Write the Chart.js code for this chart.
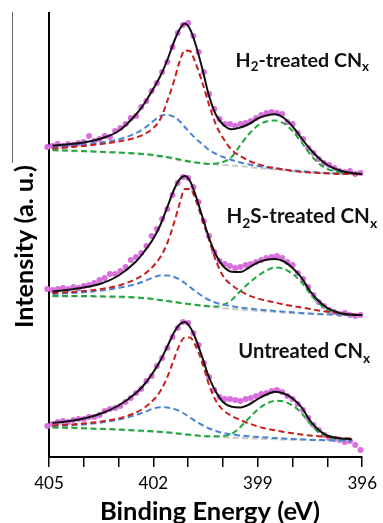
<!DOCTYPE html>
<html>
<head>
<meta charset="utf-8">
<script src="https://cdn.jsdelivr.net/npm/chart.js@4.4.0/dist/chart.umd.min.js"></script>
<style>
  html, body { margin: 0; padding: 0; background: #fff; }
  #wrap { position: relative; width: 383px; height: 523px; }
  #edge { position: absolute; left: 12px; top: 12px; width: 1px; height: 151px; background: #666; }
</style>
</head>
<body>
<div id="wrap">
  <canvas id="xpsChart" width="383" height="523"></canvas>
  <div id="edge"></div>
</div>
<script>
// Binding energies (eV) of the fitted curves and of the measured points
const fitEnergy = [404.9, 404.5, 404, 403.5, 403, 402.5, 402.25, 402, 401.8, 401.6, 401.4, 401.25, 401.1, 400.95, 400.8, 400.6, 400.4, 400.2, 400, 399.75, 399.5, 399.25, 399, 398.75, 398.5, 398.25, 398, 397.75, 397.5, 397.25, 397, 396.6, 396.3, 396];
const dotEnergy = [405.05, 404.9, 404.75, 404.6, 404.45, 404.3, 404.15, 404.0, 403.85, 403.7, 403.55, 403.4, 403.25, 403.1, 402.95, 402.8, 402.65, 402.5, 402.35, 402.2, 402.05, 401.9, 401.75, 401.6, 401.45, 401.3, 401.15, 401.0, 400.85, 400.7, 400.55, 400.4, 400.25, 400.1, 399.95, 399.8, 399.65, 399.5, 399.35, 399.2, 399.05, 398.9, 398.75, 398.6, 398.45, 398.3, 398.15, 398.0, 397.85, 397.7, 397.55, 397.4, 397.25, 397.1, 396.95, 396.8, 396.65, 396.5, 396.35, 396.2, 396.05];

// H2-treated CNx (top, offset intensities)
const h2Dots = [310, 311, 313, 311, 313, 312, 314, 315, 321, 316, 318, 321, 320, 326, 329, 333, 339, 341, 350, 356, 366, 374, 385, 395, 410, 424, 432, 434, 421, 405, 385, 363, 348, 338, 333, 333, 331, 333, 334, 336, 339, 342, 344, 345, 344, 343, 335, 333, 324, 318, 309, 304, 298, 294, 292, 289, 286, 285, 286, 283, 284];
const h2Fit = [311.5, 312.5, 314.5, 318.5, 326, 342.5, 354, 368.5, 381, 397, 416, 427.5, 433.5, 428, 414, 389, 361, 342, 332.5, 327.7, 329.5, 333, 338.5, 341.5, 342.8, 339, 330.5, 319, 308, 299, 292, 286, 284, 283];
const h2Red = [308.5, 309.5, 311, 313, 315.5, 319.5, 323, 329, 338, 356, 377, 395, 406.5, 406, 395, 375, 352, 332, 319, 307, 301, 296, 293, 290.5, 289, 287.5, 286, 285, 284.5, 284, 283.5, 283, 283, 282.5];
const h2Blue = [310, 311, 312.5, 314.5, 317.5, 324, 329, 336, 341, 342.2, 340, 336, 330, 324.5, 319, 313, 307, 303, 300, 297, 294.5, 292.5, 291, 289.5, 288.5, 287.5, 286.5, 286, 285, 284.5, 284, 283.5, 283, 283];
const h2Green = [307, 306.5, 306, 305.2, 304.5, 303.7, 303, 302, 301, 300, 298.7, 297.5, 296.5, 295.5, 294.7, 293.7, 293, 293.5, 295, 300, 312, 323, 331.5, 335.5, 336.5, 333.5, 326, 315, 303, 293.5, 288, 284.5, 283.5, 283];
const h2Base = [306.5, 306, 305.5, 304.7, 304, 303, 302.2, 301.2, 300, 299, 297.7, 296.7, 295.7, 295, 294.2, 293.5, 293, 292.5, 292, 291.5, 290.8, 290, 289, 288.2, 287.5, 286.7, 286, 285.3, 284.7, 284.2, 283.7, 283.3, 283, 282.8];

// H2S-treated CNx (middle)
const h2sDots = [168, 167, 168, 169, 168, 170, 169, 171, 172, 174, 177, 179, 183, 183, 186, 190, 197, 200, 204, 211, 221, 228, 238, 248, 262, 274, 280, 279, 270, 255, 236, 221, 205, 196, 193, 191, 189, 190, 192, 193, 195, 197, 199, 200, 201, 199, 195, 192, 184, 178, 170, 162, 155, 151, 147, 145, 143, 144, 142, 141, 142];
const h2sFit = [165.5, 167, 169.5, 173.5, 181.5, 195.5, 206, 218.5, 232, 250, 268, 277.5, 281, 276, 263, 241, 219, 202, 191, 185.3, 185, 189.5, 194.5, 197.3, 198, 195.5, 189, 179.5, 166, 156, 149, 143.5, 142.3, 142];
const h2sRed = [164, 164.8, 166, 168, 171.5, 178, 183, 191, 200, 214, 235, 253, 268, 268, 259, 238, 217, 196, 181, 172, 166, 161.5, 158.5, 156.3, 154.5, 152.5, 151, 149.5, 148, 146.5, 145.3, 143.7, 142.7, 142];
const h2sBlue = [163, 163.7, 164.7, 166.5, 169, 173, 176, 179.5, 181.5, 181.5, 180, 177.5, 174, 170, 166, 161, 157, 154.2, 152.5, 150.8, 149.5, 148.5, 147.5, 146.7, 146, 145.3, 144.7, 144, 143.5, 143, 142.7, 142.3, 142, 142];
const h2sGreen = [161, 161, 161, 160.7, 160.3, 159.7, 159, 158, 157, 156, 155, 154.3, 153.5, 153, 152.3, 151.5, 150.7, 150.5, 152, 157, 166, 174, 181, 186.5, 189.5, 188, 183, 175, 163.5, 154, 147, 143, 142, 142];
const h2sBase = [160.5, 160.5, 160.3, 160, 159.5, 158.8, 158.2, 157.5, 156.7, 155.8, 154.8, 154, 153.2, 152.5, 151.8, 151, 150.2, 149.5, 148.8, 148, 147.3, 146.7, 146, 145.5, 145, 144.5, 144, 143.5, 143, 142.7, 142.4, 142, 141.8, 141.7];

// Untreated CNx (bottom)
const untDots = [31, 33, 35, 36, 35, 37, 38, 38, 40, 40, 42, 46, 48, 49, 51, 55, 59, 64, 68, 76, 81, 91, 99, 109, 120, 129, 135, 134, 124, 112, 94, 80, 67, 60, 58, 58, 57, 56, 58, 59, 61, 63, 64, 66, 67, 65, 61, 58, 53, 47, 39, 32, 27, 22, 19, 18, 17, 15, 16, 12, 7];
const untFit = [34, 35.5, 38.5, 43.5, 51.5, 64, 73, 85, 96.5, 110.5, 125, 132.5, 135, 130, 119.5, 100, 79.5, 65, 55, 50.2, 49.5, 52.5, 58, 62.5, 65.3, 63.5, 58.5, 50, 36.5, 27, 21.5, 18.5, 17.7, null];
const untRed = [31.5, 32.2, 33.5, 35.5, 38.5, 44.5, 49.5, 57, 66, 80, 98.5, 112, 119.5, 119.5, 112, 95, 72, 56, 47, 41, 37, 33.5, 30.5, 28.3, 26.7, 25, 23.7, 22.5, 21.5, 20.7, 20, 19, 18.5, null];
const untBlue = [31, 31.5, 32.5, 34.5, 37.5, 42, 45, 48.5, 49.7, 49.5, 48, 46, 43, 39.5, 36, 32, 28.5, 26, 24, 22.5, 21.5, 20.7, 20, 19.5, 19, 18.5, 18, 17.7, 17.3, 17, 16.7, 16.4, 16.2, null];
const untGreen = [29.7, 29.3, 28.8, 28.2, 27.5, 26.7, 26.2, 25.7, 25.2, 24.7, 24, 23.4, 22.8, 22.2, 21.7, 21, 20.7, 20.7, 21, 23, 30, 39, 47.5, 53.5, 56.2, 55.5, 51.5, 44, 33.5, 25, 20.2, 17.5, 16.5, null];
const untBase = [29.2, 28.8, 28.3, 27.7, 27, 26.2, 25.7, 25.2, 24.7, 24.2, 23.6, 23, 22.5, 22, 21.5, 21, 20.5, 20.1, 19.8, 19.4, 19, 18.7, 18.4, 18.1, 17.8, 17.5, 17.3, 17.1, 16.9, 16.7, 16.5, 16.3, 16.2, null];

// Axis tick labels and the sample names (text parts, subscript flag)
const tickLabels = [405, 402, 399, 396];
const sampleLabels = [
  [["H", 0], ["2", 1], ["-treated CN", 0], ["x", 1]],
  [["H", 0], ["2", 1], ["S-treated CN", 0], ["x", 1]],
  [["Untreated CN", 0], ["x", 1]],
];
// where each name starts and ends (eV) and its baseline (a. u.)
const labelStart = [399.64, 399.9, 399.56];
const labelEnd = [395.8, 395.57, 395.77];
const labelLevel = [390.3, 233.7, 98.7];
const xTitle = "Binding Energy (eV)";
const yTitle = "Intensity (a. u.)";

function toPoints(energies, values) {
  return energies.map((e, i) => ({ x: e, y: values[i] }));
}

function dotSet(values) {
  return {
    data: toPoints(dotEnergy, values),
    showLine: false,
    pointRadius: 3,
    pointBorderWidth: 0,
    pointBackgroundColor: "#d96fdc",
    clip: false,
    order: 5,
  };
}

function curveSet(values, color, dashed, order) {
  return {
    data: toPoints(fitEnergy, values),
    borderColor: color,
    borderWidth: 2,
    borderDash: dashed ? [6, 3.5] : [],
    pointRadius: 0,
    cubicInterpolationMode: "monotone",
    spanGaps: false,
    order: order,
  };
}

const datasets = [];
[
  [h2Dots, h2Fit, h2Red, h2Blue, h2Green, h2Base],
  [h2sDots, h2sFit, h2sRed, h2sBlue, h2sGreen, h2sBase],
  [untDots, untFit, untRed, untBlue, untGreen, untBase],
].forEach(([dots, fit, red, blue, green, base]) => {
  datasets.push(dotSet(dots));
  datasets.push(curveSet(base, "#c8c8c8", true, 4));
  datasets.push(curveSet(green, "#1fa83c", true, 3));
  datasets.push(curveSet(blue, "#4a84d2", true, 2));
  datasets.push(curveSet(red, "#c81e1e", true, 1));
  datasets.push(curveSet(fit, "#111111", false, 0));
});

// font size that makes a text as wide as the reference
function fitSize(ctx, text, weight, width) {
  ctx.font = weight + " 20px Lato";
  return 20 * width / ctx.measureText(text).width;
}

// draws the sample names with their subscripts, and both axis titles
const labelPlugin = {
  id: "sampleLabels",
  afterDatasetsDraw(chart) {
    const ctx = chart.ctx;
    const xs = chart.scales.x;
    const ys = chart.scales.y;
    ctx.save();
    ctx.fillStyle = "#111";
    ctx.textBaseline = "alphabetic";
    sampleLabels.forEach((parts, i) => {
      let x = xs.getPixelForValue(labelStart[i]);
      const target = xs.getPixelForValue(labelEnd[i]) - x;
      const y = ys.getPixelForValue(labelLevel[i]);
      // width at 20px, then scale
      let w = 0;
      parts.forEach(([txt, sub]) => {
        ctx.font = sub ? "bold 13.6px Lato" : "bold 20px Lato";
        w += ctx.measureText(txt).width;
      });
      const size = 20 * target / w;
      parts.forEach(([txt, sub]) => {
        ctx.font = "bold " + (sub ? size * 0.68 : size) + "px Lato";
        ctx.fillText(txt, x, sub ? y + size * 0.22 : y);
        x += ctx.measureText(txt).width;
      });
    });
    ctx.restore();

    ctx.save();
    ctx.fillStyle = "#000";
    ctx.textAlign = "center";
    ctx.textBaseline = "middle";
    ctx.font = "bold " + fitSize(ctx, xTitle, "bold", 220) + "px Lato";
    ctx.fillText(xTitle, 210, 512);
    ctx.translate(25, 246.5);
    ctx.rotate(-Math.PI / 2);
    ctx.font = "bold " + fitSize(ctx, yTitle, "bold", 163) + "px Lato";
    ctx.fillText(yTitle, 0, 0);
    ctx.restore();
  },
};

new Chart(document.getElementById("xpsChart"), {
  type: "line",
  data: { datasets: datasets },
  plugins: [labelPlugin],
  options: {
    responsive: false,
    animation: false,
    layout: { padding: { top: 13, right: 18, left: 0, bottom: 0 } },
    plugins: { legend: { display: false }, tooltip: { enabled: false } },
    scales: {
      x: {
        type: "linear",
        reverse: true,
        min: 396,
        max: 405,
        border: { color: "#000", width: 2 },
        grid: { drawOnChartArea: false, tickLength: 10, color: "#000", lineWidth: 1.5 },
        ticks: {
          stepSize: 1,
          autoSkip: false,
          maxRotation: 0,
          padding: 6,
          color: "#000",
          font: { family: "Lato", size: 17 },
          callback: (v) => (tickLabels.includes(v) ? String(v) : ""),
        },
        afterFit: (s) => { s.height = 66; },
      },
      y: {
        min: 0,
        max: 444,
        border: { color: "#000", width: 2 },
        grid: { display: false },
        ticks: { display: false },
        afterFit: (s) => { s.width = 49; },
      },
    },
  },
});
</script>
</body>
</html>
